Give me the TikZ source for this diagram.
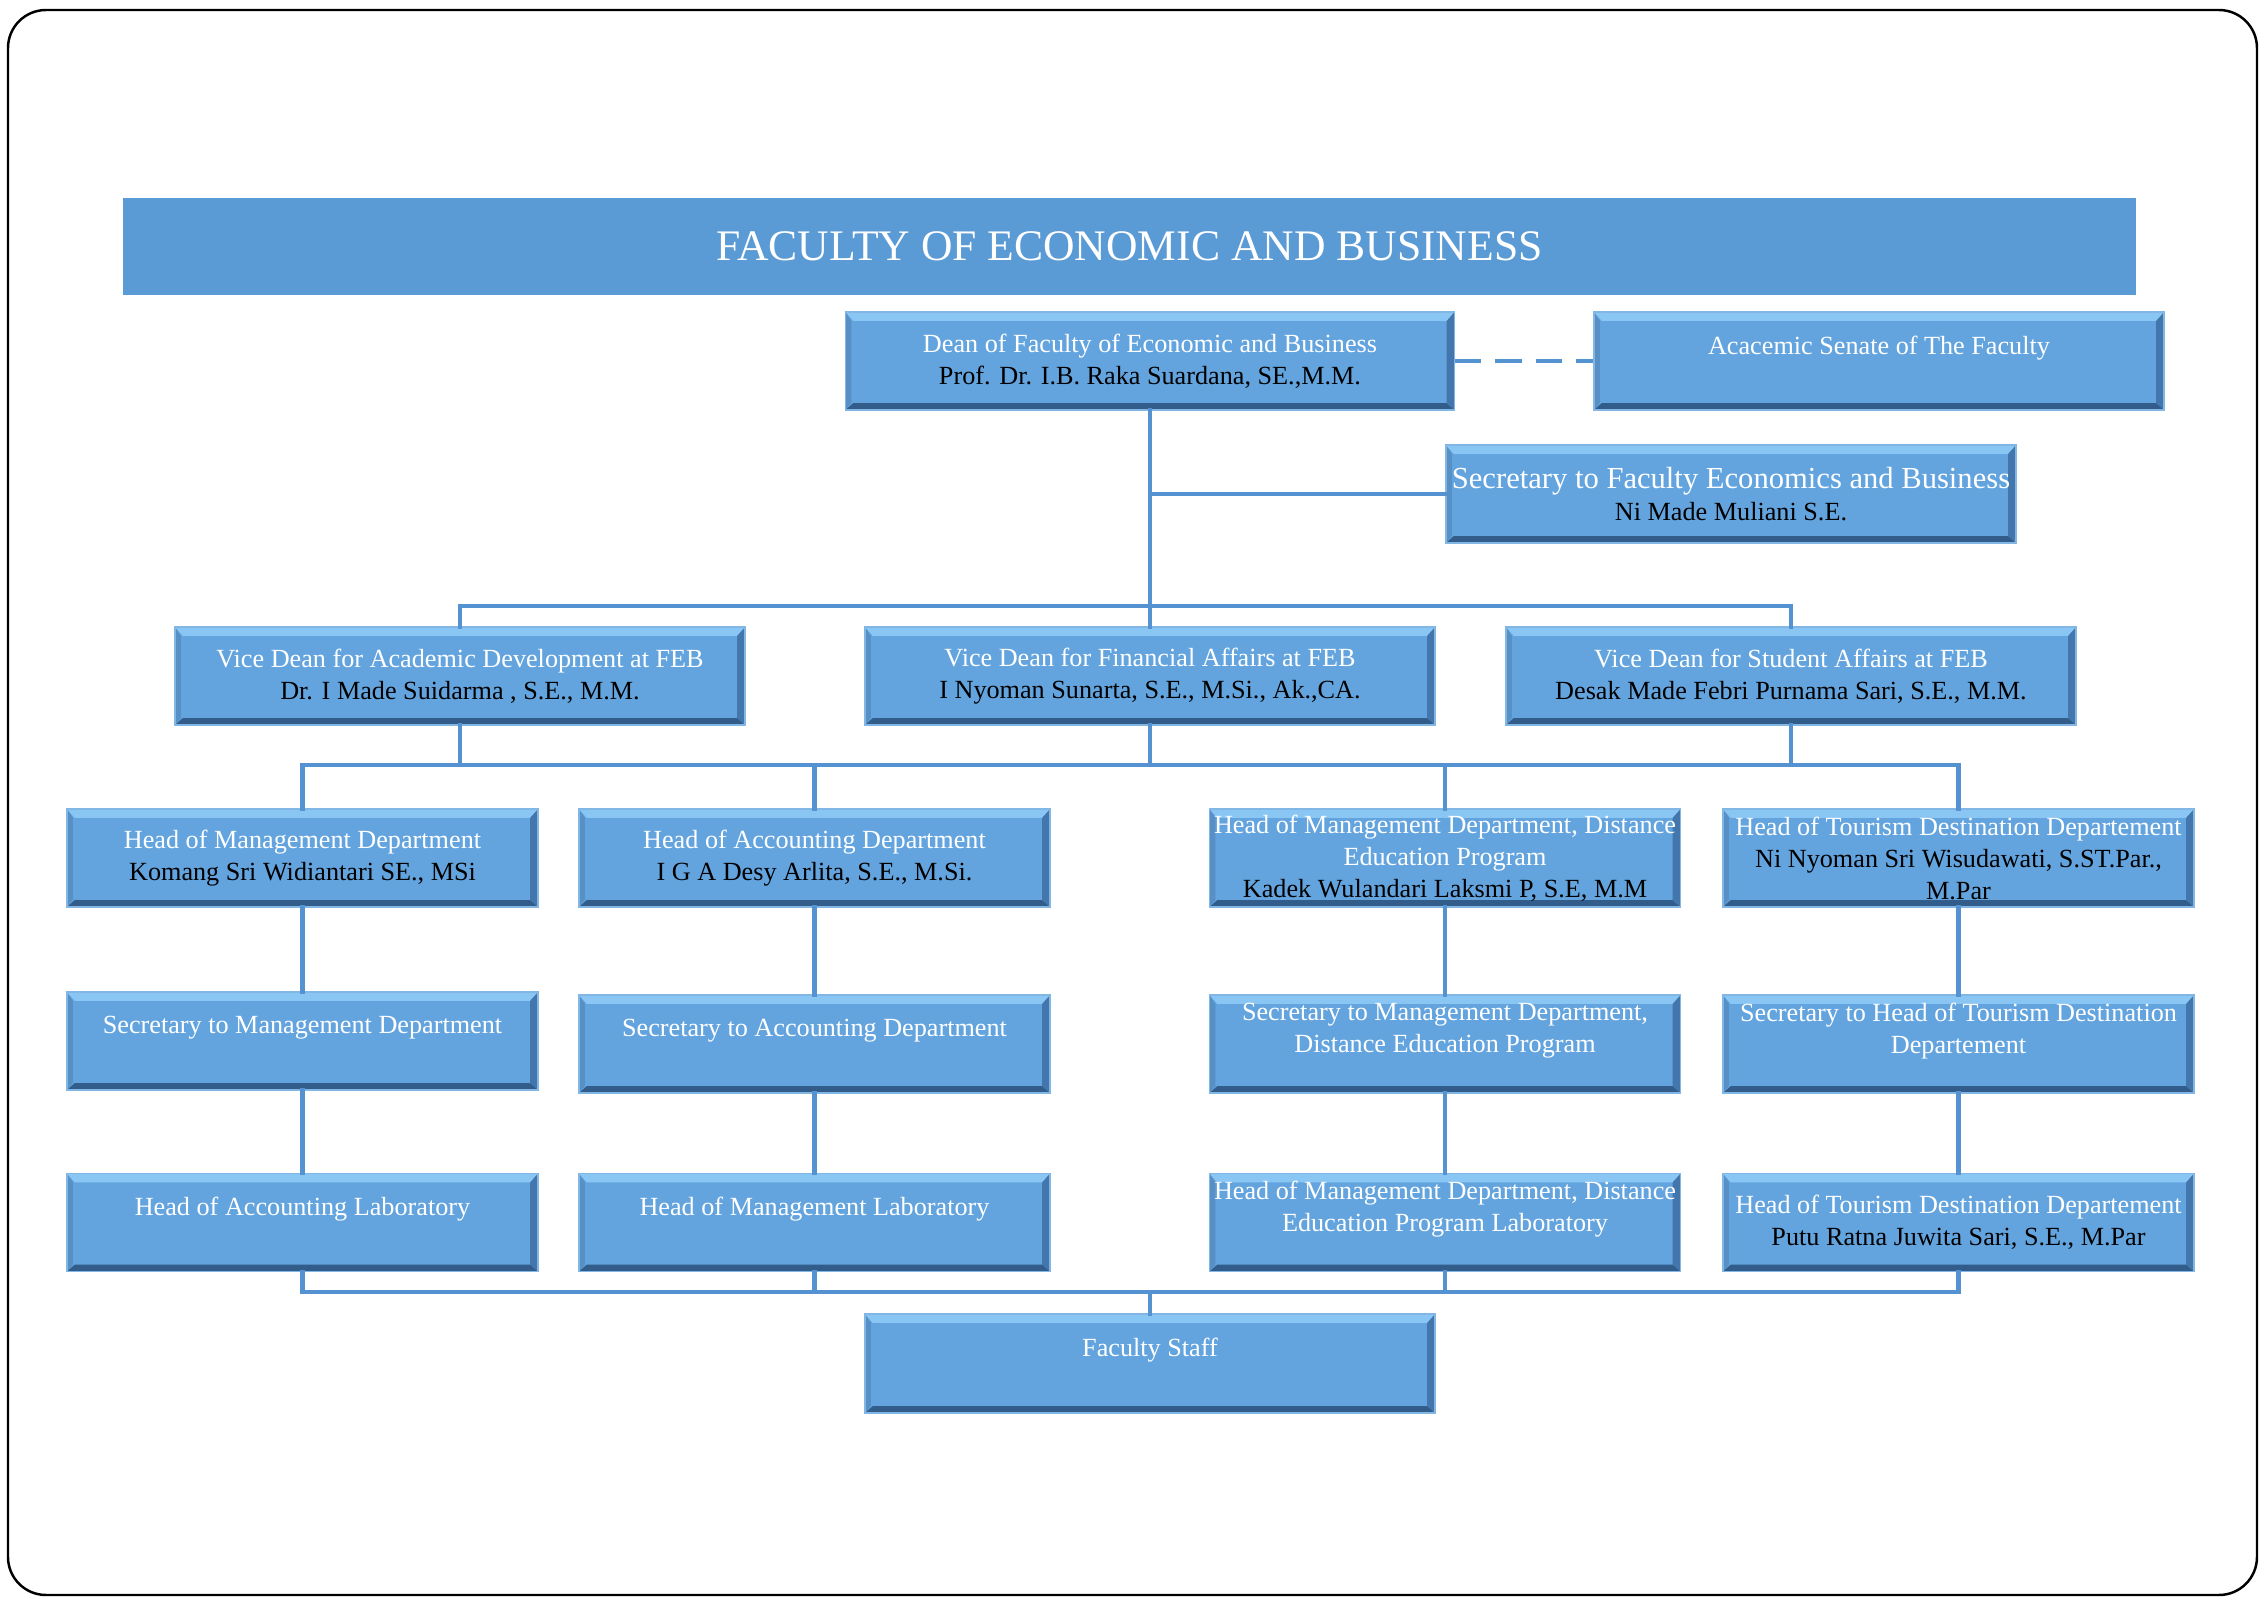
\documentclass[tikz,border=0pt]{standalone}
\usepackage{fontspec}
\setmainfont{Liberation Serif}
\usetikzlibrary{calc,positioning}

\definecolor{boxfill}{RGB}{99,164,223}
\definecolor{bevtop}{RGB}{138,198,244}
\definecolor{bevbot}{RGB}{50,92,138}
\definecolor{bevside}{RGB}{66,118,172}
\definecolor{bannerblue}{RGB}{91,155,213}
\definecolor{linkblue}{RGB}{84,146,209}
\newcommand{\unitfont}{\fontsize{7.45}{9.1}\selectfont}

\begin{document}
\begin{tikzpicture}[x=0.01cm,y=-0.01cm]
  \tikzstyle{unit}=[draw=boxfill!80!white,line width=0.4pt,fill=boxfill,
    minimum height=0.98cm,minimum width=5.7cm,inner sep=0pt,
    align=center,text=white,font=\unitfont,
    path picture={
      \fill[bevtop] (path picture bounding box.north west) -- (path picture bounding box.north east)
        -- ([shift={(-0.08cm,-0.09cm)}]path picture bounding box.north east)
        -- ([shift={(0.08cm,-0.09cm)}]path picture bounding box.north west) -- cycle;
      \fill[bevbot] (path picture bounding box.south west) -- (path picture bounding box.south east)
        -- ([shift={(-0.08cm,0.07cm)}]path picture bounding box.south east)
        -- ([shift={(0.08cm,0.07cm)}]path picture bounding box.south west) -- cycle;
      \fill[bevside] (path picture bounding box.north east) -- (path picture bounding box.south east)
        -- ([shift={(-0.08cm,0.07cm)}]path picture bounding box.south east)
        -- ([shift={(-0.08cm,-0.09cm)}]path picture bounding box.north east) -- cycle;
      \fill[boxfill!88!black] (path picture bounding box.north west) -- (path picture bounding box.south west)
        -- ([shift={(0.06cm,0.07cm)}]path picture bounding box.south west)
        -- ([shift={(0.06cm,-0.09cm)}]path picture bounding box.north west) -- cycle;
    }]
  \tikzstyle{banner}=[fill=bannerblue,minimum width=20.11cm,minimum height=0.97cm,
    inner sep=0pt,text=white,font=\fontsize{12.4}{14}\selectfont]
  \tikzstyle{link}=[draw=linkblue,line width=1.3pt,line cap=rect]

  \useasboundingbox (0,0) rectangle (2268,1603);
  \draw[line width=0.7pt,rounded corners=0.38cm] (8,10) rectangle (2257,1595);

  % title and dean level
  \node[banner] (faculty) at (1129.5,246.5) {FACULTY OF ECONOMIC AND BUSINESS};
  \node[unit,minimum width=6.09cm] (dean) at (1150,361)
    {Dean of Faculty of Economic and Business\\{\color{black}Prof. Dr. I.B. Raka Suardana, SE.,M.M.}};
  \node[unit] (senate) at (1879,361) {Acacemic Senate of The Faculty\\~};
  \node[unit] (sec) at (1731,494)
    {{\fontsize{8.7}{10}\selectfont Secretary to Faculty Economics and Business}\\{\color{black}Ni Made Muliani S.E.}};

  % vice deans
  \node[unit] (vd1) at (460,676)
    {Vice Dean for Academic Development at FEB\\{\color{black}Dr. I Made Suidarma , S.E., M.M.}};
  \node[unit] (vd2) at (1150,676)
    {Vice Dean for Financial Affairs at FEB\\{\color{black}I Nyoman Sunarta, S.E., M.Si., Ak.,CA.}};
  \node[unit] (vd3) at (1791,676)
    {Vice Dean for Student Affairs at FEB\\{\color{black}Desak Made Febri Purnama Sari, S.E., M.M.}};

  % departments
  \node[unit,minimum width=4.71cm] (h1) at (302.5,858)
    {Head of Management Department\\{\color{black}Komang Sri Widiantari SE., MSi}};
  \node[unit,minimum width=4.71cm] (h2) at (814.5,858)
    {Head of Accounting Department\\{\color{black}I G A Desy Arlita, S.E., M.Si.}};
  \node[unit,minimum width=4.71cm] (h3) at (1445,858)
    {Head of Management Department, Distance\\Education Program\\{\color{black}Kadek Wulandari Laksmi P, S.E, M.M}};
  \node[unit,minimum width=4.71cm] (h4) at (1958.5,858)
    {Head of Tourism Destination Departement\\{\color{black}Ni Nyoman Sri Wisudawati, S.ST.Par.,}\\{\color{black}M.Par}};

  % secretaries
  \node[unit,minimum width=4.71cm] (s1) at (302.5,1041) {Secretary to Management Department\\~};
  \node[unit,minimum width=4.71cm] (s2) at (814.5,1044) {Secretary to Accounting Department\\~};
  \node[unit,minimum width=4.71cm] (s3) at (1445,1044)
    {Secretary to Management Department,\\Distance Education Program\\~};
  \node[unit,minimum width=4.71cm] (s4) at (1958.5,1044)
    {Secretary to Head of Tourism Destination\\Departement\\~};

  % laboratories
  \node[unit,minimum width=4.71cm] (l1) at (302.5,1222.5) {Head of Accounting Laboratory\\~};
  \node[unit,minimum width=4.71cm] (l2) at (814.5,1222.5) {Head of Management Laboratory\\~};
  \node[unit,minimum width=4.71cm] (l3) at (1445,1222.5)
    {Head of Management Department, Distance\\Education Program Laboratory\\~};
  \node[unit,minimum width=4.71cm] (l4) at (1958.5,1222.5)
    {Head of Tourism Destination Departement\\{\color{black}Putu Ratna Juwita Sari, S.E., M.Par}};

  \node[unit,minimum height=0.99cm] (staff) at (1150,1363.5) {Faculty Staff\\~};

  % connectors
  \coordinate (busA) at (1150,606);
  \coordinate (busB) at (1150,765);
  \coordinate (busC) at (1150,1292);
  \draw[link,line cap=butt,dash pattern=on 7.4pt off 4pt] (dean.east) -- (senate.west);
  \draw[link] (dean.south) -- (vd2.north);
  \draw[link] (sec.west) -- (sec.west -| dean.south);
  \draw[link] (vd1.north) -- (vd1.north |- busA) -- (vd3.north |- busA) -- (vd3.north);
  \foreach \v in {vd1,vd2,vd3}
    \draw[link] (\v.south) -- (\v.south |- busB);
  \draw[link] (h1.north |- busB) -- (h4.north |- busB);
  \draw[link] (l1.south |- busC) -- (l4.south |- busC);
  \foreach \c in {1,...,4} {
    \draw[link] (h\c.north) -- (h\c.north |- busB);
    \draw[link] (h\c.south) -- (s\c.north);
    \draw[link] (s\c.south) -- (l\c.north);
    \draw[link] (l\c.south) -- (l\c.south |- busC);
  }
  \draw[link] (staff.north) -- (staff.north |- busC);
\end{tikzpicture}
\end{document}
